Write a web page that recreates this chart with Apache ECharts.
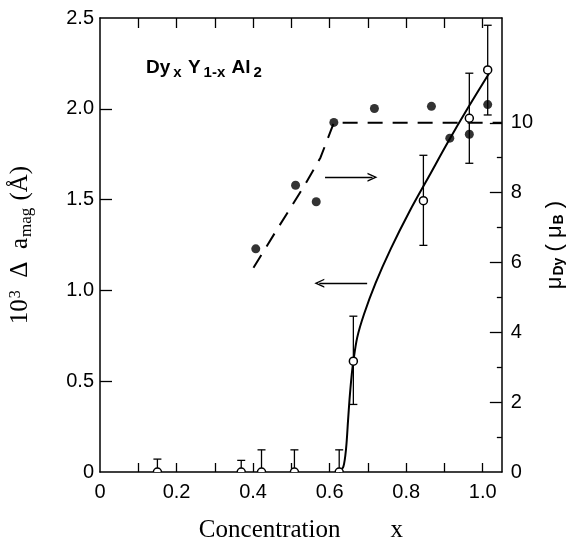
<!DOCTYPE html>
<html>
<head>
<meta charset="utf-8">
<script src="https://cdn.jsdelivr.net/npm/echarts/dist/echarts.min.js"></script>
<style>
  html, body { margin: 0; padding: 0; background: #fff; }
  #chart { width: 574px; height: 548px; }
</style>
</head>
<body>
<div id="chart"></div>
<script>
// open circles, 10^3 Δa_mag (left axis), with error bar ends
const openX = [0.150, 0.369, 0.422, 0.508, 0.625, 0.662, 0.845, 0.965, 1.013]
const openY = [0, 0, 0, 0, 0, 0.61, 1.494, 1.948, 2.214]
const errLow = [0, 0, 0, 0, 0, 0.372, 1.248, 1.70, 1.966]
const errHigh = [0.071, 0.064, 0.122, 0.122, 0.122, 0.858, 1.744, 2.196, 2.46]

// filled dots, μ_Dy in μ_B (right axis)
const dotX = [0.407, 0.511, 0.565, 0.611, 0.717, 0.866, 0.914, 0.965, 1.013]
const dotY = [6.39, 8.21, 7.74, 10.01, 10.41, 10.47, 9.56, 9.67, 10.52]

// solid guide curve (left axis)
const curveX = [0.625, 0.636, 0.643, 0.648, 0.652, 0.657, 0.662, 0.672, 0.69, 0.72, 0.76, 0.81, 0.86, 0.91, 0.96, 1.018]
const curveY = [0, 0.03, 0.13, 0.28, 0.40, 0.52, 0.61, 0.74, 0.87, 1.04, 1.23, 1.44, 1.63, 1.82, 2.0, 2.2]

// dashed guide line (right axis)
const dashX = [0.401, 0.46, 0.534, 0.576, 0.611, 1.05]
const dashY = [5.85, 6.9, 8.2, 9.0, 10.0, 10.0]

// arrows: [x start, x end] and the height they sit at
const arrowRightX = [0.588, 0.712]
const arrowRightY = 8.44
const arrowLeftX = [0.698, 0.573]
const arrowLeftY = 1.04

// ticks and labels
const xTicks = [0.1, 0.2, 0.3, 0.4, 0.5, 0.6, 0.7, 0.8, 0.9, 1.0]
const xLabels = [0, 0.2, 0.4, 0.6, 0.8, 1.0]
const leftTicks = [0.5, 1.0, 1.5, 2.0]
const leftLabels = [0, 0.5, 1.0, 1.5, 2.0, 2.5]
const rightMajor = [2, 4, 6, 8, 10]
const rightMinor = [1, 3, 5, 7, 9]
const rightLabels = [0, 2, 4, 6, 8, 10]

const ink = '#000'
const sans = 'Liberation Sans'
const serif = 'Liberation Serif'
const fmt = v => (v === 0 ? '0' : v.toFixed(1))

const zip = (a, b) => a.map((v, i) => [v, b[i]])
const errData = openX.map((x, i) => [x, openY[i], errLow[i], errHigh[i]])

const tickLabel = { color: ink, fontFamily: sans, fontSize: 20 }
const arrowHead = 'path://M0,10 L5,0 L10,10 L8.4,10 L5,3.2 L1.6,10 Z'

const chart = echarts.init(document.getElementById('chart'))
chart.setOption({
  backgroundColor: '#fff',
  animation: false,
  title: {
    text: '{n|Dy}{s|x}{n| Y}{s|1-x}{n| Al}{s|2}',
    left: 141,
    top: 53,
    textStyle: {
      rich: {
        n: { fontFamily: sans, fontSize: 19, fontWeight: 'bold', color: ink, lineHeight: 22, verticalAlign: 'top' },
        s: { fontFamily: sans, fontSize: 15, fontWeight: 'bold', color: ink, lineHeight: 22, verticalAlign: 'top', padding: [7, 1, 0, 3] }
      }
    }
  },
  grid: { left: 99, right: 58, top: 18, bottom: 72 },
  xAxis: [
    {
      type: 'value', min: 0, max: 1.05, position: 'bottom',
      axisLine: { onZero: false, lineStyle: { color: ink, width: 1.5 } },
      axisTick: { inside: true, length: 9, customValues: xTicks, lineStyle: { color: ink, width: 1.3 } },
      axisLabel: { customValues: xLabels, formatter: fmt, margin: 10, ...tickLabel },
      splitLine: { show: false },
      name: 'Concentration        x',
      nameLocation: 'middle',
      nameGap: 46,
      nameTextStyle: { fontFamily: serif, fontSize: 25, color: ink }
    },
    {
      type: 'value', min: 0, max: 1.05, position: 'top',
      axisLine: { onZero: false, lineStyle: { color: ink, width: 1.5 } },
      axisTick: { inside: true, length: 10, customValues: xTicks, lineStyle: { color: ink, width: 1.3 } },
      axisLabel: { show: false },
      splitLine: { show: false }
    }
  ],
  yAxis: [
    {
      type: 'value', min: 0, max: 2.5, position: 'left',
      axisLine: { onZero: false, lineStyle: { color: ink, width: 1.5 } },
      axisTick: { inside: true, length: 12, customValues: leftTicks, lineStyle: { color: ink, width: 1.3 } },
      axisLabel: { customValues: leftLabels, formatter: fmt, margin: 6, ...tickLabel },
      splitLine: { show: false },
      name: '{t|10}{sup|3}{t|  Δ  a}{sub|mag}{t| (Å)}',
      nameLocation: 'middle',
      nameRotate: 90,
      nameGap: 64,
      nameTextStyle: {
        rich: {
          t: { fontFamily: serif, fontSize: 25, color: ink, lineHeight: 28, verticalAlign: 'top' },
          sup: { fontFamily: serif, fontSize: 16, color: ink, lineHeight: 28, verticalAlign: 'top', padding: [0, 0, 0, 1] },
          sub: { fontFamily: serif, fontSize: 17, color: ink, lineHeight: 28, verticalAlign: 'top', padding: [10, 1, 0, 1] }
        }
      }
    },
    {
      type: 'value', min: 0, max: 13, position: 'right',
      axisLine: { onZero: false, lineStyle: { color: ink, width: 1.5 } },
      axisTick: { inside: true, length: 12, customValues: rightMajor, lineStyle: { color: ink, width: 1.3 } },
      axisLabel: { customValues: rightLabels, margin: 9, ...tickLabel },
      splitLine: { show: false },
      name: '{m|μ}{sub|Dy}{m| ( μ}{sub|B}{m| )}',
      nameLocation: 'middle',
      nameRotate: 90,
      nameGap: 36,
      nameTextStyle: {
        rich: {
          m: { fontFamily: sans, fontSize: 22, color: ink, lineHeight: 24, verticalAlign: 'top' },
          sub: { fontFamily: sans, fontSize: 14, fontWeight: 'bold', color: ink, lineHeight: 24, verticalAlign: 'top', padding: [8, 0, 0, 1] }
        }
      }
    },
    {
      type: 'value', min: 0, max: 13, position: 'right',
      axisLine: { show: false, onZero: false },
      axisTick: { inside: true, length: 5, customValues: rightMinor, lineStyle: { color: ink, width: 1.3 } },
      axisLabel: { show: false },
      splitLine: { show: false }
    }
  ],
  series: [
    {
      name: 'curve',
      type: 'line',
      xAxisIndex: 0,
      yAxisIndex: 0,
      data: zip(curveX, curveY),
      smooth: 0.3,
      showSymbol: false,
      lineStyle: { color: ink, width: 2 },
      z: 2,
      markLine: {
        silent: true,
        symbol: ['none', arrowHead],
        symbolSize: [9, 10],
        label: { show: false },
        lineStyle: { color: ink, width: 1.4, type: 'solid' },
        data: [[{ coord: [arrowLeftX[0], arrowLeftY] }, { coord: [arrowLeftX[1], arrowLeftY] }]]
      }
    },
    {
      name: 'dashed',
      type: 'line',
      xAxisIndex: 0,
      yAxisIndex: 1,
      data: zip(dashX, dashY),
      showSymbol: false,
      lineStyle: { color: ink, width: 2, type: [15, 10] },
      z: 2,
      markLine: {
        silent: true,
        symbol: ['none', arrowHead],
        symbolSize: [9, 10],
        label: { show: false },
        lineStyle: { color: ink, width: 1.4, type: 'solid' },
        data: [[{ coord: [arrowRightX[0], arrowRightY] }, { coord: [arrowRightX[1], arrowRightY] }]]
      }
    },
    {
      name: 'dots',
      type: 'scatter',
      xAxisIndex: 0,
      yAxisIndex: 1,
      data: zip(dotX, dotY),
      symbolSize: 9,
      itemStyle: { color: ink },
      z: 3
    },
    {
      name: 'open',
      type: 'custom',
      xAxisIndex: 0,
      yAxisIndex: 0,
      data: errData,
      encode: { x: 0, y: 1 },
      clip: true,
      z: 4,
      renderItem: function (params, api) {
        const x = api.value(0)
        const y = api.value(1)
        const lo = api.value(2)
        const hi = api.value(3)
        const c = api.coord([x, y])
        const top = api.coord([x, hi])
        const bot = api.coord([x, lo])
        const cap = 4
        const st = { stroke: ink, lineWidth: 1.3 }
        const kids = [
          { type: 'line', shape: { x1: c[0], y1: top[1], x2: c[0], y2: bot[1] }, style: st },
          { type: 'line', shape: { x1: c[0] - cap, y1: top[1], x2: c[0] + cap, y2: top[1] }, style: st }
        ]
        if (lo < y) {
          kids.push({ type: 'line', shape: { x1: c[0] - cap, y1: bot[1], x2: c[0] + cap, y2: bot[1] }, style: st })
        }
        kids.push({ type: 'circle', shape: { cx: c[0], cy: c[1], r: 4 }, style: { fill: '#fff', stroke: ink, lineWidth: 1.5 } })
        return { type: 'group', children: kids }
      }
    }
  ]
})
</script>
</body>
</html>
